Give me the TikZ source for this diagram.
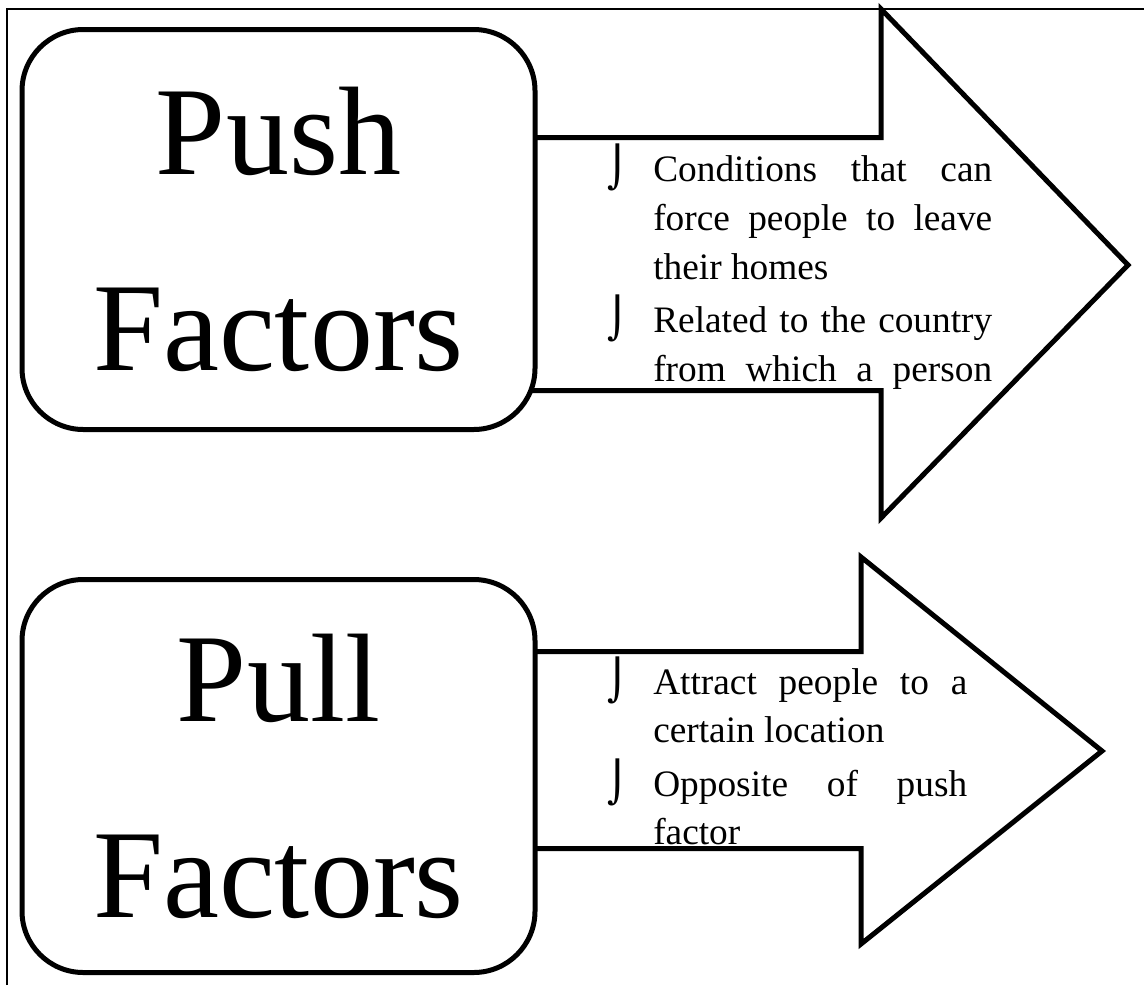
\documentclass[tikz,border=0pt]{standalone}
\usepackage{fontspec}
\setmainfont{Liberation Serif}
\newfontfamily\dejavu{DejaVu Sans}
\usetikzlibrary{positioning}

% bullet glyph and list items
\newcommand\bulletmark{{\dejavu\fontsize{30}{30}\selectfont ⌡}}
\newcommand\fact[1]{\noindent\llap{\bulletmark\hspace{19pt}}#1\par}
\newcommand\cutfact[1]{{\parfillskip=0pt\fact{#1}}}
\newcommand\listfont{\fontsize{28}{36.5}\selectfont\setlength\parskip{3.5pt}\hyphenpenalty=10000\tolerance=9999}

\begin{document}
\begin{tikzpicture}[x=0.75pt, y=-0.75pt,
  frame/.style={draw=black, line width=1pt},
  factorbox/.style={draw, line width=3.75pt, rounded corners=46pt, fill=white, align=center, inner sep=0pt, font=\fontsize{94.5}{147}\selectfont},
  bigarrow/.style={draw, line width=3.75pt, fill=white, line join=miter},
  factlist/.style={inner sep=0pt, align=justify, anchor=base west}
]
\useasboundingbox (0,0) rectangle (1144,985);
\draw[frame] (7,985) -- (7,9) -- (1144,9);

% push factors
\draw[bigarrow] (400,137.5) -- (881,137.5) -- (881,9) -- (1128,265) -- (881,518) -- (881,390.5) -- (400,390.5);
\node[factorbox, minimum width=384.75pt, minimum height=300pt] (push) at (278.5,229.5) {Push\\Factors};
\begin{scope}
  \clip (540,140) rectangle (1144,388);
  \node[factlist, text width=254.25pt] (pushlist) at (653,181.7) {\listfont
    \fact{Conditions that can force people to leave their homes}
    \cutfact{Related to the country from which a person}};
\end{scope}

% pull factors
\draw[bigarrow] (400,651.5) -- (861,651.5) -- (861,557) -- (1102,751) -- (861,944) -- (861,848.5) -- (400,848.5);
\node[factorbox, minimum width=384.75pt, minimum height=294.75pt] (pull) at (278.5,776) {Pull\\Factors};
\begin{scope}
  \clip (540,654) rectangle (1144,846);
  \node[factlist, text width=235.5pt] (pulllist) at (653,694) {\listfont
    \fact{Attract people to a certain location}
    \fact{Opposite of push factor}};
\end{scope}
\end{tikzpicture}
\end{document}
